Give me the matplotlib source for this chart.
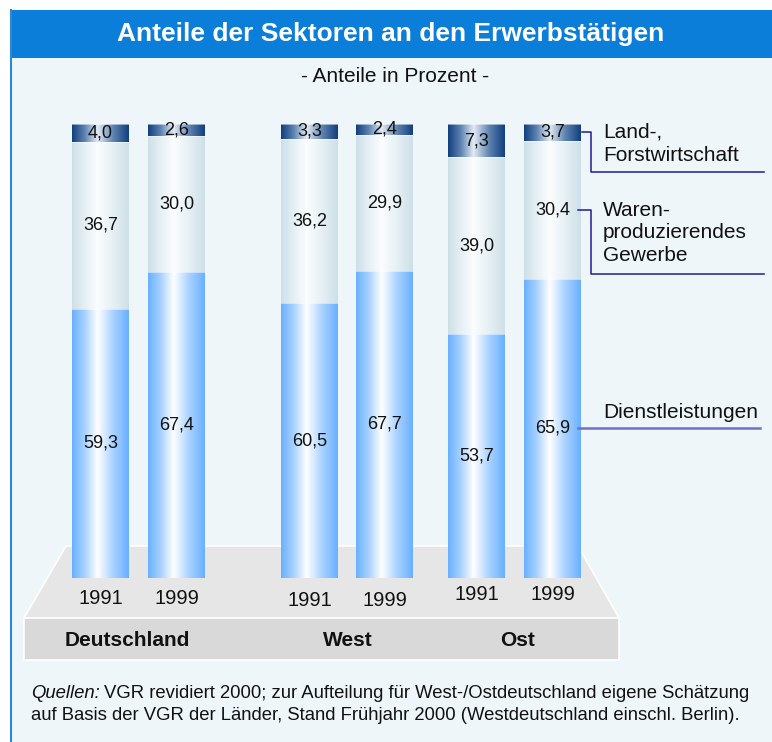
import numpy as np
import matplotlib.pyplot as plt
from matplotlib.patches import Polygon, Rectangle
from matplotlib.colors import LinearSegmentedColormap

plt.rcParams['font.family'] = ['Liberation Sans', 'DejaVu Sans']

# data (percent shares)
regions = ['Deutschland', 'West', 'Ost']
years = ['1991', '1999']
land = [4.0, 2.6, 3.3, 2.4, 7.3, 3.7]
waren = [36.7, 30.0, 36.2, 29.9, 39.0, 30.4]
dienst = [59.3, 67.4, 60.5, 67.7, 53.7, 65.9]
sectors = ['Land-,\nForstwirtschaft', 'Waren-\nproduzierendes\nGewerbe', 'Dienstleistungen']

W, H = 772, 742
fig = plt.figure(figsize=(W / 100, H / 100), dpi=100)
fig.patch.set_facecolor('white')

def fx(x):
    return x / W

def fy(y):
    return 1 - y / H

# background / frame in pixel coordinates
bg = fig.add_axes([0, 0, 1, 1])
bg.set_xlim(0, W)
bg.set_ylim(H, 0)
bg.axis('off')
bg.add_patch(Rectangle((10, 10), W, H, facecolor='#eff6fa', edgecolor='none'))
bg.add_patch(Rectangle((10, 10), W, 48, facecolor='#0a7ed8', edgecolor='none'))
bg.plot([10.5, 10.5], [10, H], color='#2b88d8', lw=1.5)

# platform
bg.add_patch(Polygon([(66, 546), (578, 546), (619, 618), (24, 618)], closed=True,
                     facecolor='#e6e6e6', edgecolor='white', lw=1.2))
bg.add_patch(Rectangle((24, 618), 595, 42, facecolor='#d9d9d9', edgecolor='white', lw=1.2))

# bar axes: y in percent
y0, y100 = 578, 124
ax = fig.add_axes([0, fy(y0), 1, (y0 - y100) / H])
ax.set_xlim(0, W)
ax.set_ylim(0, 100)
ax.axis('off')
ax.patch.set_alpha(0)

centers = [100.5, 176.5, 309.5, 384.5, 476.5, 552.5]
bw = 57

cmaps = [
    LinearSegmentedColormap.from_list('l', ['#123f7e', '#5f84b2', '#e4ebf3', '#5f84b2', '#123f7e']),
    LinearSegmentedColormap.from_list('w', ['#cde0e7', '#e6f0f4', '#fbfdfe', '#e6f0f4', '#cde0e7']),
    LinearSegmentedColormap.from_list('d', ['#6ab0ff', '#a9d2ff', '#ffffff', '#a9d2ff', '#6ab0ff']),
]
grad = np.linspace(0, 1, 200).reshape(1, -1)
grad = np.where(grad < 0.45, grad / 0.45 * 0.5, 0.5 + (grad - 0.45) / 0.55 * 0.5)

dienst_a = np.array(dienst)
waren_a = np.array(waren)
land_a = np.array(land)
stacks = [(land_a, dienst_a + waren_a), (waren_a, dienst_a), (dienst_a, np.zeros(6))]

for (vals, bottoms), cmap in zip(stacks, cmaps):
    bars = ax.bar(centers, vals, bottom=bottoms, width=bw, color='none',
                  edgecolor='none')
    for b, v in zip(bars, vals):
        x0, yb = b.get_x(), b.get_y()
        im = ax.imshow(grad, cmap=cmap, extent=(x0, x0 + bw, yb, yb + v),
                       aspect='auto', interpolation='bilinear', zorder=1)
        im.set_clip_path(b)
        ax.plot([x0, x0 + bw], [yb + v, yb + v], color='white', lw=0.6, alpha=0.6, zorder=2)
        ax.text(b.get_x() + bw / 2, yb + v / 2, f'{v:.1f}'.replace('.', ','),
                ha='center', va='center', fontsize=13, color='#111111', zorder=3)
ax.set_xlim(0, W)
ax.set_ylim(0, 100)

# connector lines to sector labels (from last bar)
xr = centers[-1] + bw / 2
mid_land = dienst[-1] + waren[-1] + land[-1] / 2
mid_waren = dienst[-1] + waren[-1] / 2
mid_dienst = dienst[-1] / 2
ax.plot([xr + 1, 591, 591, 764], [mid_land, mid_land, 89.4, 89.4], color='#1c1c96', lw=1.1, zorder=4)
ax.plot([578, 591, 591, 764], [mid_waren, mid_waren, 67.0, 67.0], color='#1c1c96', lw=1.1, zorder=4)
ax.plot([578, 760], [mid_dienst, mid_dienst], color='#7070c8', lw=1.8, zorder=4)

# sector labels
fig.text(fx(603), fy(144), sectors[0], ha='left', va='center', fontsize=15,
         linespacing=1.3, color='#111111')
fig.text(fx(603), fy(233), sectors[1], ha='left', va='center', fontsize=15,
         linespacing=1.23, color='#111111')
fig.text(fx(603), fy(412), sectors[2], ha='left', va='center', fontsize=15, color='#111111')

# years and regions
year_y = [598, 600, 595]
for i, c in enumerate(centers):
    fig.text(fx(c), fy(year_y[i // 2]), years[i % 2], ha='center', va='center',
             fontsize=14.5, color='#111111')
for name, xc in zip(regions, [127, 348, 518]):
    fig.text(fx(xc), fy(640), name, ha='center', va='center', fontsize=15,
             fontweight='bold', color='#111111')

# titles
fig.text(fx(391), fy(34), 'Anteile der Sektoren an den Erwerbstätigen', ha='center',
         va='center', fontsize=19, fontweight='bold', color='white')
fig.text(fx(395), fy(76), '- Anteile in Prozent -', ha='center', va='center',
         fontsize=15, color='#111111')

# footnote
fs = 13.3
q = fig.text(fx(31), fy(694), 'Quellen:', ha='left', va='center', fontsize=fs,
             style='italic', color='#111111')
r = fig.canvas.get_renderer()
qx1 = q.get_window_extent(r).x1
fig.text(qx1 / W + fx(4), fy(694),
         'VGR revidiert 2000; zur Aufteilung für West-/Ostdeutschland eigene Schätzung',
         ha='left', va='center', fontsize=fs, color='#111111')
fig.text(fx(31), fy(715),
         'auf Basis der VGR der Länder, Stand Frühjahr 2000 (Westdeutschland einschl. Berlin).',
         ha='left', va='center', fontsize=fs, color='#111111')

fig.savefig('out.png', dpi=100)
